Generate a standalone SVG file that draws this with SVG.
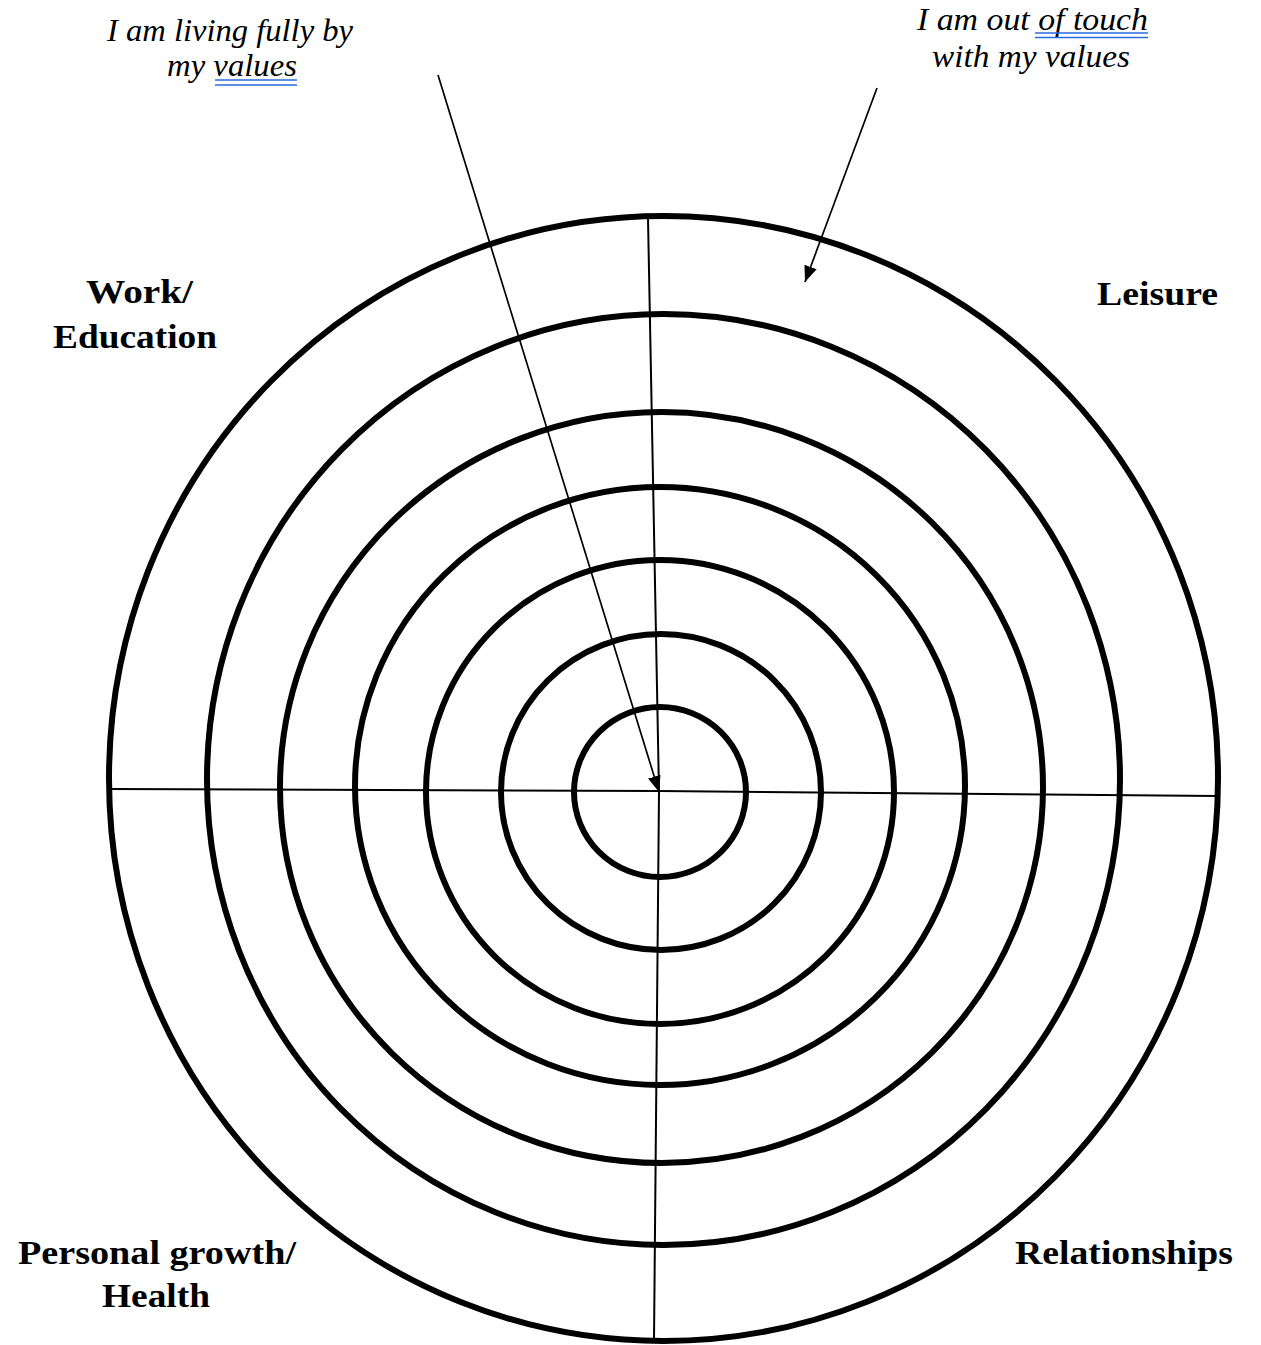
<svg xmlns="http://www.w3.org/2000/svg" width="1261" height="1345" viewBox="0 0 1261 1345">
<style>
.ring{fill:none;stroke:#000;stroke-width:6}
.axis{fill:none;stroke:#000;stroke-width:2}
.conn{fill:none;stroke:#000;stroke-width:1.7}
.it{font-family:"Liberation Serif","Times New Roman",serif;font-style:italic;font-size:31px;fill:#000}
.lb{font-family:"Liberation Serif","Times New Roman",serif;font-weight:bold;font-size:34px;fill:#000}
.ul{stroke:#2a6be0;stroke-width:1.6}
</style>
<defs>
<marker id="ah2" viewBox="0 0 16 13" refX="16" refY="6.5" markerWidth="16" markerHeight="13" markerUnits="userSpaceOnUse" orient="auto">
<path d="M0,0 L16,6.5 L0,13 z" fill="#000"/>
</marker>
</defs>
<rect width="1261" height="1345" fill="#fff"/>
<g id="rings">
<ellipse class="ring" cx="663.5" cy="778.5" rx="554.5" ry="562.5"/>
<ellipse class="ring" cx="663.5" cy="779.5" rx="456.5" ry="465.5"/>
<ellipse class="ring" cx="661.5" cy="787.5" rx="381.5" ry="375.5"/>
<ellipse class="ring" cx="660" cy="786" rx="305" ry="299"/>
<ellipse class="ring" cx="660" cy="792" rx="234" ry="232"/>
<ellipse class="ring" cx="661" cy="792" rx="160" ry="158"/>
<ellipse class="ring" cx="660" cy="792" rx="86" ry="85"/>
</g>
<g id="axes">
<polyline class="axis" points="648,218 659,792 654,1341"/>
<polyline class="axis" points="109,789 659,791 1218,796"/>
</g>
<g id="connectors">
<line class="conn" x1="438" y1="75" x2="659" y2="792" marker-end="url(#ah2)"/>
<line class="conn" x1="877" y1="88" x2="805" y2="282" marker-end="url(#ah2)"/>
</g>
<g id="label-living">
<text class="it" x="107" y="41" textLength="246" lengthAdjust="spacingAndGlyphs">I am living fully by</text>
<text class="it" x="167" y="76" textLength="130" lengthAdjust="spacingAndGlyphs">my values</text>
<line class="ul" x1="215" y1="80" x2="297" y2="80"/>
<line class="ul" x1="215" y1="85" x2="297" y2="85"/>
</g>
<g id="label-outoftouch">
<text class="it" x="917" y="30" textLength="231" lengthAdjust="spacingAndGlyphs">I am out of  touch</text>
<text class="it" x="932" y="67" textLength="198" lengthAdjust="spacingAndGlyphs">with  my values</text>
<line class="ul" x1="1035" y1="33" x2="1148" y2="33"/>
<line class="ul" x1="1035" y1="37.5" x2="1148" y2="37.5"/>
</g>
<g id="label-work">
<text class="lb" x="86" y="303" textLength="107" lengthAdjust="spacingAndGlyphs">Work/</text>
<text class="lb" x="53" y="348" textLength="164" lengthAdjust="spacingAndGlyphs">Education</text>
</g>
<g id="label-leisure">
<text class="lb" x="1097" y="305" textLength="121" lengthAdjust="spacingAndGlyphs">Leisure</text>
</g>
<g id="label-personal">
<text class="lb" x="18" y="1264" textLength="278" lengthAdjust="spacingAndGlyphs">Personal growth/</text>
<text class="lb" x="102" y="1307" textLength="108" lengthAdjust="spacingAndGlyphs">Health</text>
</g>
<g id="label-relationships">
<text class="lb" x="1015" y="1264" textLength="218" lengthAdjust="spacingAndGlyphs">Relationships</text>
</g>
</svg>
